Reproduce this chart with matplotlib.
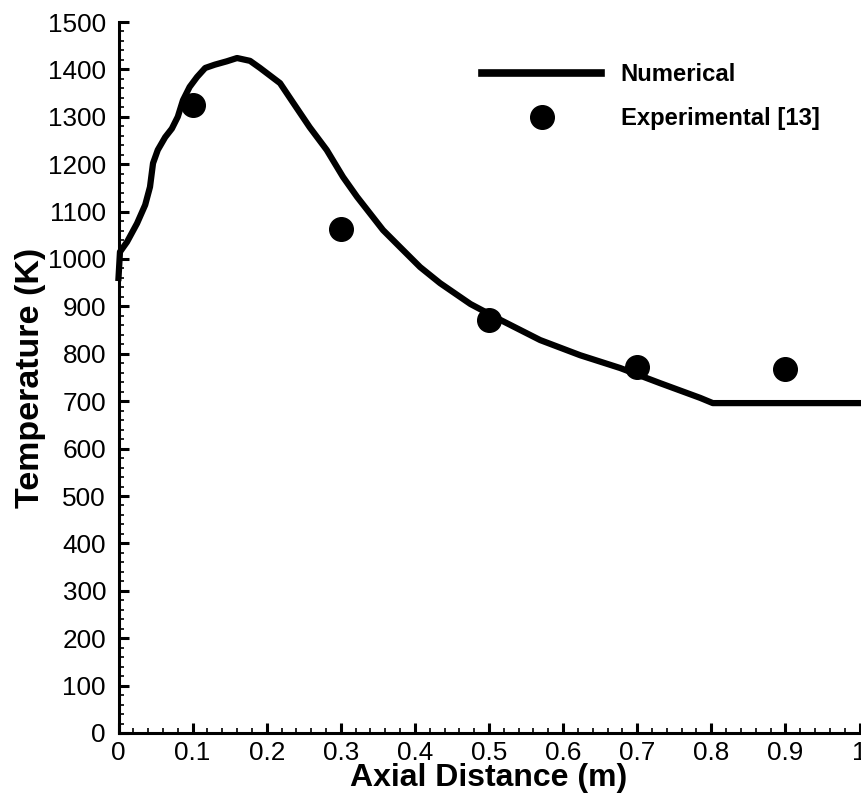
import matplotlib
matplotlib.use("Agg")
import matplotlib.pyplot as plt
from matplotlib.lines import Line2D
from matplotlib.ticker import MultipleLocator

plt.rcParams['font.family'] = ['Liberation Sans', 'DejaVu Sans']

# Numerical curve
num_x = [0.0, 0.002, 0.0115, 0.025, 0.036, 0.0425, 0.0466, 0.053, 0.063, 0.072,
         0.080, 0.087, 0.096, 0.106, 0.117, 0.130, 0.146, 0.160, 0.1775, 0.191,
         0.218, 0.236, 0.258, 0.281, 0.303, 0.322, 0.339, 0.357, 0.380, 0.407,
         0.434, 0.461, 0.475, 0.516, 0.569, 0.623, 0.677, 0.731, 0.785, 0.802, 1.0]
num_T = [960, 1015, 1036, 1075, 1114, 1152, 1202, 1230, 1257, 1275,
         1300, 1335, 1363, 1384, 1403, 1410, 1417, 1424, 1418, 1403,
         1371, 1329, 1278, 1230, 1173, 1131, 1097, 1061, 1025, 983,
         949, 920, 905, 871, 829, 797, 770, 738, 707, 696, 696]

# Experimental data
exp_x = [0.1, 0.3, 0.5, 0.7, 0.9]
exp_T = [1325, 1063, 871, 772, 768]

x_ticks = [0, 0.1, 0.2, 0.3, 0.4, 0.5, 0.6, 0.7, 0.8, 0.9, 1]
x_labels = ['0', '0.1', '0.2', '0.3', '0.4', '0.5', '0.6', '0.7', '0.8', '0.9', '1']
y_ticks = list(range(0, 1501, 100))

fig = plt.figure(figsize=(8.61, 7.96), dpi=100)
ax = fig.add_axes([118.5/861, 63/796, (859.5-118.5)/861, (733-22)/796])

ax.plot(num_x, num_T, color='black', lw=4.5, solid_joinstyle='round', clip_on=False, zorder=3)
ax.plot(exp_x, exp_T, 'o', color='black', ms=17, ls='none', zorder=4)

ax.set_xlim(0, 1)
ax.set_ylim(0, 1500)
ax.set_xticks(x_ticks)
ax.set_xticklabels(x_labels)
ax.set_yticks(y_ticks)
ax.xaxis.set_minor_locator(MultipleLocator(0.02))
ax.yaxis.set_minor_locator(MultipleLocator(20))

for s in ['top', 'right']:
    ax.spines[s].set_visible(False)
for s in ['left', 'bottom']:
    ax.spines[s].set_linewidth(2.2)

ax.tick_params(which='major', direction='in', length=7, width=2.2, labelsize=18.8)
ax.tick_params(which='minor', direction='in', length=3.8, width=1.2)
ax.tick_params(axis='x', which='major', pad=5.5)
ax.tick_params(axis='y', which='major', pad=9)

ax.set_xlabel('Axial Distance (m)', fontsize=23, fontweight='bold', labelpad=-1)
ax.set_ylabel('Temperature (K)', fontsize=24.5, fontweight='bold', labelpad=1)

handles = [Line2D([], [], color='black', lw=5.5),
           Line2D([], [], color='black', marker='o', ms=17, ls='none')]
fig.legend(handles, ['Numerical', 'Experimental [13]'],
           loc='upper left', bbox_to_anchor=(482/861, 1 - 63/796),
           frameon=False, handlelength=5.0, handletextpad=0.8,
           labelspacing=0.9, borderpad=0, borderaxespad=0,
           prop={'size': 17.2, 'weight': 'bold'})

fig.savefig('out.png', dpi=100)
